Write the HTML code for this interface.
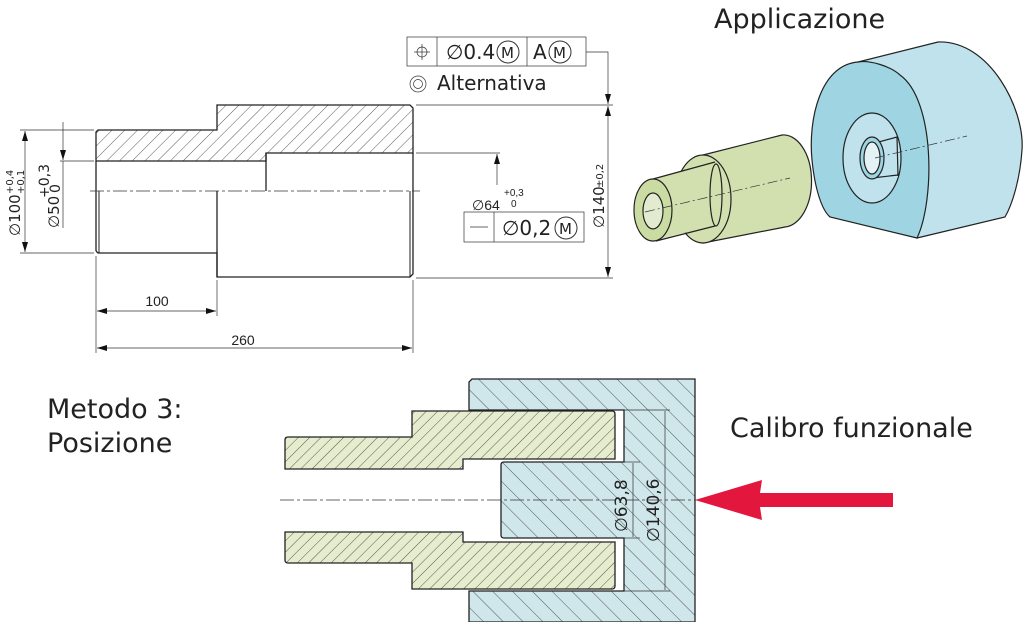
<!DOCTYPE html>
<html><head><meta charset="utf-8"><style>
html,body{margin:0;padding:0;background:#fff;width:1024px;height:622px;overflow:hidden}
svg{display:block}
text{font-family:"DejaVu Sans","Liberation Sans",sans-serif;fill:#222}
.l{font-family:"Liberation Sans",sans-serif}
</style></head><body>
<svg width="1024" height="622" viewBox="0 0 1024 622" xmlns="http://www.w3.org/2000/svg">
<defs>
<pattern id="h1" width="9" height="9" patternUnits="userSpaceOnUse" patternTransform="rotate(45)"><line x1="0" y1="0" x2="0" y2="9" stroke="#333" stroke-width="0.8"/></pattern>
<pattern id="hg" width="8" height="8" patternUnits="userSpaceOnUse" patternTransform="rotate(45)"><rect width="8" height="8" fill="#e6ecce"/><line x1="0" y1="0" x2="0" y2="8" stroke="#333" stroke-width="0.8"/></pattern>
<pattern id="hb" width="14" height="14" patternUnits="userSpaceOnUse" patternTransform="rotate(-45)"><rect width="14" height="14" fill="#cfe6ea"/><line x1="0" y1="0" x2="0" y2="14" stroke="#333" stroke-width="0.8"/></pattern>
<marker id="ar" viewBox="0 0 10 6" refX="10" refY="3" markerWidth="12" markerHeight="6" markerUnits="userSpaceOnUse" orient="auto-start-reverse"><path d="M0,0L10,3L0,6z" fill="#111"/></marker>
</defs>

<!-- top drawing -->
<g stroke="#222" stroke-width="1.3" fill="none">
<path d="M96,161 L96,132 L98,130 L217,130 L217,105 L410,105 L413,108 L413,153 L266,153 L266,161 Z" fill="url(#h1)"/>
<line x1="266" y1="153" x2="266" y2="191"/>
<line x1="96" y1="161" x2="96" y2="251"/>
<path d="M96,251 L98,253 L217,253 L217,277 L410,277 L413,274 L413,153"/>
<line x1="217" y1="191" x2="217" y2="277"/>
<line x1="99" y1="191" x2="99" y2="253" stroke-width="1"/>
<line x1="410" y1="191" x2="410" y2="277" stroke-width="1"/>
</g>
<line x1="90" y1="191" x2="420" y2="191" stroke="#333" stroke-width="0.8" stroke-dasharray="14,3,3,3"/>
<g stroke="#333" stroke-width="0.7" fill="none">
<line x1="20" y1="130" x2="94" y2="130"/><line x1="20" y1="253" x2="94" y2="253"/>
<line x1="25" y1="131" x2="25" y2="252" marker-start="url(#ar)" marker-end="url(#ar)"/>
<line x1="60" y1="161" x2="94" y2="161"/>
<line x1="63" y1="122" x2="63" y2="160" marker-end="url(#ar)"/>
<line x1="63" y1="161" x2="63" y2="228"/>
<line x1="96" y1="256" x2="96" y2="353"/><line x1="217" y1="280" x2="217" y2="316"/><line x1="413" y1="280" x2="413" y2="353"/>
<line x1="97" y1="311" x2="216" y2="311" marker-start="url(#ar)" marker-end="url(#ar)"/>
<line x1="97" y1="348" x2="412" y2="348" marker-start="url(#ar)" marker-end="url(#ar)"/>
<line x1="416" y1="105" x2="613" y2="105"/><line x1="416" y1="278" x2="613" y2="278"/>
<line x1="608" y1="106" x2="608" y2="277" marker-start="url(#ar)" marker-end="url(#ar)"/>
<polyline points="586,52 608,52 608,104" marker-end="url(#ar)"/>
<line x1="416" y1="153" x2="500" y2="153"/>
<line x1="497" y1="185" x2="497" y2="154" marker-end="url(#ar)"/>
<rect x="407" y="37" width="179" height="29"/><line x1="437" y1="37" x2="437" y2="66"/><line x1="527" y1="37" x2="527" y2="66"/>
<rect x="464" y="212" width="120" height="30"/><line x1="494" y1="212" x2="494" y2="242"/>
<circle cx="422" cy="52" r="5"/><line x1="414" y1="52" x2="430" y2="52"/><line x1="422" y1="44" x2="422" y2="60"/>
<line x1="470" y1="227" x2="488" y2="227"/>
<circle cx="418" cy="84" r="8"/><circle cx="418" cy="84" r="4.5"/>
</g>
<g font-size="20" class="l">
<text x="446" y="59">∅0.4</text><circle cx="508" cy="52" r="11" fill="none" stroke="#333"/><text x="501" y="58" font-size="15">M</text>
<text x="533" y="59">A</text><circle cx="560" cy="52" r="11" fill="none" stroke="#333"/><text x="553" y="58" font-size="15">M</text>
<text x="502" y="235">∅0,2</text><circle cx="566" cy="228" r="11" fill="none" stroke="#333"/><text x="559" y="234" font-size="15">M</text>
<text x="437" y="90">Alternativa</text>
</g>
<text x="472" y="210" font-size="14" class="l">∅64</text>
<text x="504" y="196" font-size="10" class="l">+0,3</text><text x="511" y="207" font-size="10" class="l">0</text>
<text x="157" y="306" font-size="14" text-anchor="middle" class="l">100</text>
<text x="243" y="345" font-size="14" text-anchor="middle" class="l">260</text>
<g transform="translate(20,236) rotate(-90)" class="l"><text font-size="15">∅100</text><text x="42" y="-7" font-size="10">+0,4</text><text x="42" y="4" font-size="10">+0,1</text></g>
<g transform="translate(59,228) rotate(-90)" class="l"><text font-size="15">∅50</text><text x="30" y="-10" font-size="14">+0,3</text><text x="35" y="1" font-size="14">0</text></g>
<g transform="translate(604,228) rotate(-90)" class="l"><text font-size="15">∅140</text><text x="40" y="-1" font-size="10">±0,2</text></g>

<text x="714" y="28" font-size="27">Applicazione</text>

<!-- 3D green -->
<g stroke="#222" stroke-width="1.2">
<path d="M703,155 L782,135 A28,46 0 0 1 785,227 L703,243 Z" fill="#d2e0b0"/>
<ellipse cx="703" cy="199" rx="28" ry="44" fill="#d2e0b0"/>
<path d="M653,179 L715,162 L715,225 L653,241 Z" fill="#d2e0b0" stroke="none"/>
<line x1="653" y1="179" x2="715" y2="162"/><line x1="656" y1="241" x2="715" y2="226"/>
<ellipse cx="716" cy="195" rx="6" ry="31" fill="none"/>
<ellipse cx="653" cy="210" rx="19" ry="31" fill="#cbdca2"/>
<ellipse cx="653" cy="211" rx="10" ry="18" fill="#e2ebcf"/>
</g>
<line x1="645" y1="212" x2="790" y2="178" stroke="#333" stroke-width="0.7" stroke-dasharray="10,3,2,3"/>
<!-- 3D blue -->
<g stroke="#222" stroke-width="1.2">
<path d="M858,62 L938,42 C990,40 1025,110 1022,150 C1020,180 1012,205 1005,217 L917,238 Z" fill="#bfe2ec"/>
<path d="M858,62 C820,65 808,120 812,160 C815,190 822,210 830,217 L917,238 C935,200 935,100 900,75 C890,66 870,60 858,62 Z" fill="#9fd5e2"/>
<ellipse cx="872" cy="158" rx="29" ry="45" fill="#bfe2ec"/>
<path d="M870,145 L897,137 L898,177 L872,182 Z" fill="#bfe2ec" stroke="none"/>
<line x1="868" y1="145" x2="897" y2="137"/><line x1="872" y1="178" x2="898" y2="175"/><line x1="897" y1="137" x2="898" y2="176"/>
<ellipse cx="872" cy="158" rx="12" ry="21" fill="#9fd5e2"/>
<ellipse cx="872" cy="158" rx="8" ry="16" fill="#e3f2f5"/>
</g>
<line x1="875" y1="158" x2="967" y2="136" stroke="#333" stroke-width="0.7" stroke-dasharray="10,3,2,3"/>

<!-- bottom -->
<text x="47" y="418" font-size="27">Metodo 3:</text>
<text x="47" y="452" font-size="27">Posizione</text>
<text x="730" y="437" font-size="27">Calibro funzionale</text>
<path d="M472,379 L695,379 L695,622 L469,622 L469,591 L624,591 L624,538 L504,538 Q501,538 501,535 L501,465 Q501,462 504,462 L624,462 L624,410 L469,410 L469,382 Z" fill="url(#hb)" stroke="#222" stroke-width="1.3"/>
<g stroke="#222" stroke-width="1.3" fill="url(#hg)">
<path d="M285,440 Q285,437 288,437 L412,437 L412,411 L612,411 Q615,411 615,414 L615,459 L463,459 L463,469 L285,469 Z"/>
<path d="M285,560 Q285,563 288,563 L412,563 L412,589 L612,589 Q615,589 615,586 L615,542 L463,542 L463,532 L285,532 Z"/>
</g>
<line x1="280" y1="500" x2="700" y2="500" stroke="#333" stroke-width="0.8" stroke-dasharray="14,3,3,3"/>
<g stroke="#333" stroke-width="0.7" fill="none">
<line x1="624" y1="462" x2="640" y2="462"/><line x1="624" y1="538" x2="640" y2="538"/>
<line x1="633" y1="463" x2="633" y2="537"/>
<line x1="624" y1="410" x2="670" y2="410"/><line x1="624" y1="591" x2="670" y2="591"/>
<line x1="665" y1="411" x2="665" y2="590"/>
</g>
<g transform="translate(627,532) rotate(-90)" class="l"><text font-size="17">∅63,8</text></g>
<g transform="translate(659,542) rotate(-90)" class="l"><text font-size="17">∅140,6</text></g>
<path d="M893,493 L760,493 L762,480 L695,500 L762,520 L760,507 L893,507 Z" fill="#e3173e"/>
</svg>
</body></html>
